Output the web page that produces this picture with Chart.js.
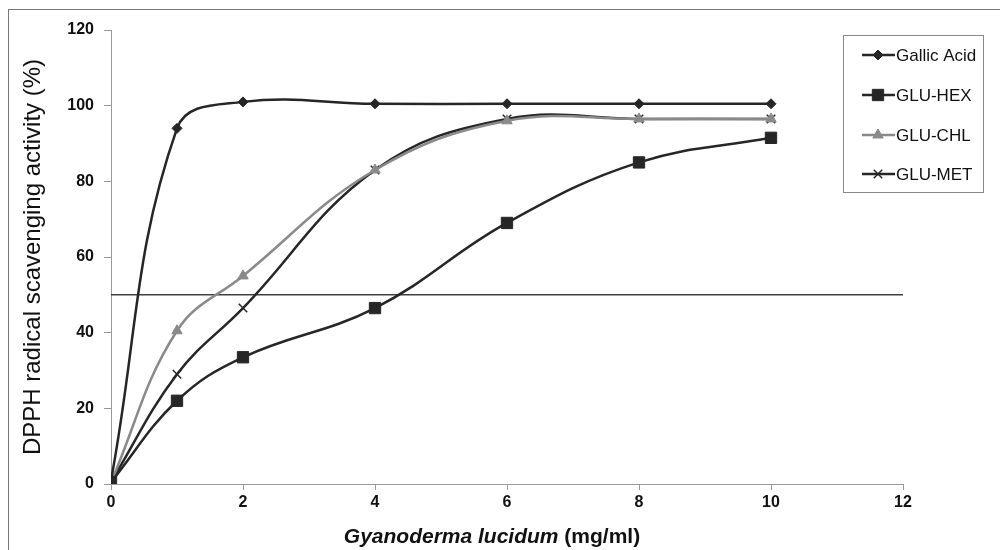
<!DOCTYPE html>
<html>
<head>
<meta charset="utf-8">
<script src="https://cdn.jsdelivr.net/npm/chart.js@4"></script>
<style>
  html, body { margin: 0; padding: 0; background: #fff; }
  #wrap { width: 1000px; height: 550px; position: relative; }
</style>
</head>
<body>
<div id="wrap"><canvas id="myChart"></canvas></div>
<script>
// concentrations (mg/ml)
const dosis = [0, 1, 2, 4, 6, 8, 10]

const gallic = [1, 94, 101, 100.5, 100.5, 100.5, 100.5]
const gluHex = [0.5, 22, 33.5, 46.5, 69, 85, 91.5]
const gluChl = [0.5, 40.5, 55, 83, 96, 96.5, 96.5]
const gluMet = [0.5, 29, 46.5, 83, 96.5, 96.5, 96.5]

const linea50 = [50, 50]
const lineaX = [0, 12]

const yTicks = [0, 20, 40, 60, 80, 100, 120]
const xTicks = [0, 2, 4, 6, 8, 10, 12]

const leyenda = ['Gallic Acid', 'GLU-HEX', 'GLU-CHL', 'GLU-MET']

function puntos(xs, ys) {
  return xs.map((x, i) => ({ x: x, y: ys[i] }))
}

const estilos = [
  { color: '#262626', pointStyle: 'rectRot', radius: 5, bw: 1 },
  { color: '#262626', pointStyle: 'rect', radius: 8, bw: 1 },
  { color: '#8a8a8a', pointStyle: 'triangle', radius: 6, bw: 1 },
  { color: '#262626', pointStyle: 'crossRot', radius: 6, bw: 1.5 }
]

const series = [gallic, gluHex, gluChl, gluMet]

// frame + legend + x title drawn by hand
const extras = {
  id: 'extras',
  afterDraw(chart) {
    const ctx = chart.ctx
    ctx.save()
    ctx.strokeStyle = '#777'
    ctx.lineWidth = 1
    ctx.strokeRect(8.5, 9.5, 1000, 600)

    // legend box
    ctx.fillStyle = '#fff'
    ctx.fillRect(843, 35, 140, 157)
    ctx.strokeStyle = '#888'
    ctx.strokeRect(843.5, 35.5, 140, 157)
    const ys = [55, 95, 135, 174]
    ctx.font = '17px "Liberation Sans", Arial, sans-serif'
    ctx.textBaseline = 'middle'
    ys.forEach((y, i) => {
      const e = estilos[i]
      ctx.strokeStyle = e.color
      ctx.fillStyle = e.color
      ctx.lineWidth = 2.5
      ctx.beginPath()
      ctx.moveTo(862, y)
      ctx.lineTo(895, y)
      ctx.stroke()
      ctx.lineWidth = e.bw
      Chart.helpers.drawPoint(ctx, { pointStyle: e.pointStyle, radius: e.radius, rotation: 0, borderWidth: e.bw }, 878, y)
      ctx.fillStyle = '#111'
      ctx.textAlign = 'left'
      ctx.fillText(leyenda[i], 896, y + 1)
    })

    // x title with mixed styles
    const p1 = 'Gyanoderma lucidum'
    const p2 = ' (mg/ml)'
    ctx.fillStyle = '#111'
    ctx.font = 'italic bold 21px "Liberation Sans", Arial, sans-serif'
    const w1 = ctx.measureText(p1).width
    ctx.font = 'bold 21px "Liberation Sans", Arial, sans-serif'
    const w2 = ctx.measureText(p2).width
    let x0 = 492 - (w1 + w2) / 2
    ctx.textAlign = 'left'
    ctx.textBaseline = 'middle'
    ctx.font = 'italic bold 21px "Liberation Sans", Arial, sans-serif'
    ctx.fillText(p1, x0, 537)
    ctx.font = 'bold 21px "Liberation Sans", Arial, sans-serif'
    ctx.fillText(p2, x0 + w1, 537)
    ctx.restore()
  }
}

const fuenteTick = { family: '"Liberation Sans", Arial, sans-serif', size: 16, weight: 'bold' }

const datasets = series.map((s, i) => ({
  label: leyenda[i],
  data: puntos(dosis, s),
  borderColor: estilos[i].color,
  backgroundColor: estilos[i].color,
  borderWidth: 2.5,
  pointStyle: estilos[i].pointStyle,
  pointRadius: estilos[i].radius,
  pointBorderWidth: estilos[i].bw,
  tension: 0.4,
  fill: false
}))

datasets.push({
  label: '50%',
  data: puntos(lineaX, linea50),
  borderColor: '#404040',
  borderWidth: 1.5,
  pointRadius: 0,
  tension: 0,
  fill: false
})

new Chart(document.getElementById('myChart'), {
  type: 'line',
  data: { datasets: datasets },
  options: {
    responsive: true,
    maintainAspectRatio: false,
    animation: false,
    layout: { padding: { left: 0, right: 97, top: 30, bottom: 0 } },
    plugins: {
      legend: { display: false },
      tooltip: { enabled: false }
    },
    scales: {
      x: {
        type: 'linear',
        min: 0,
        max: 12,
        afterFit: (s) => { s.height = 66 },
        afterBuildTicks: (s) => { s.ticks = xTicks.map(v => ({ value: v })) },
        grid: { drawOnChartArea: false, drawTicks: true, tickLength: 6, color: '#9a9a9a' },
        border: { display: true, color: '#9a9a9a', width: 1 },
        ticks: { color: '#111', font: fuenteTick, padding: 3, maxRotation: 0 }
      },
      y: {
        min: 0,
        max: 120,
        afterFit: (s) => { s.width = 111 },
        afterBuildTicks: (s) => { s.ticks = yTicks.map(v => ({ value: v })) },
        grid: { drawOnChartArea: false, drawTicks: true, tickLength: 7, color: '#9a9a9a' },
        border: { display: true, color: '#9a9a9a', width: 1 },
        ticks: { color: '#111', font: fuenteTick, padding: 10 },
        title: {
          display: true,
          text: 'DPPH radical scavenging activity (%)',
          color: '#111',
          font: { family: '"Liberation Sans", Arial, sans-serif', size: 24, weight: 'normal' },
          padding: { top: 19, bottom: 0 }
        }
      }
    }
  },
  plugins: [extras]
})
</script>
</body>
</html>
